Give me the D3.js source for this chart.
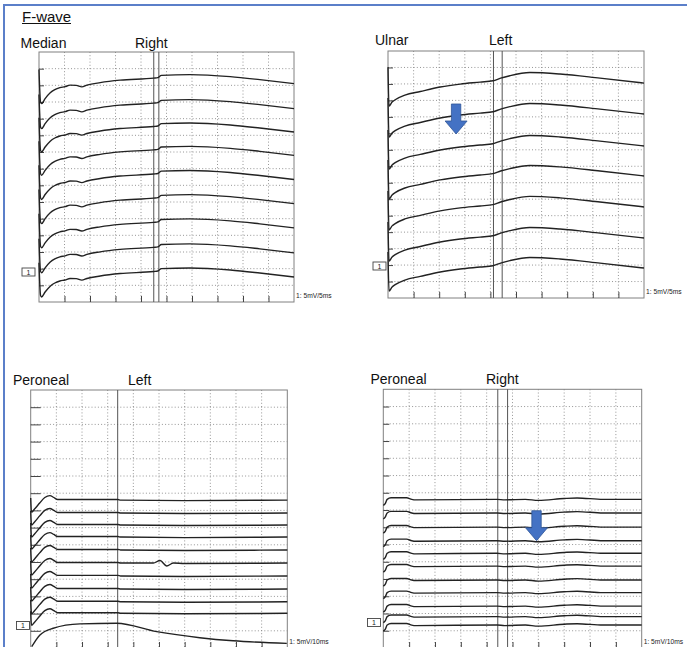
<!DOCTYPE html>
<html>
<head>
<meta charset="utf-8">
<script src="https://cdn.jsdelivr.net/npm/d3@7"></script>
<style>
  body { margin:0; background:#fff; }
  svg { display:block; font-family:"Liberation Sans", Arial, sans-serif; }
</style>
</head>
<body>
<svg id="chart" width="687" height="647"></svg>
<script>
// ---------------- data ----------------
// time in ms, amplitude in screen divisions (15 divs high), 0 = bottom of the box
// each trace = level (value at the right end) + common waveform offsets

var medianLevels = [13.1, 11.6, 10.2, 8.8, 7.35, 5.9, 4.45, 2.95, 1.5]
var medianShape = [[0,0.85],[0.3,-1.1],[0.5,-1.2],[1.2,-0.9],[2.2,-0.55],[3.1,-0.36],[4.1,-0.24],
  [5.1,-0.18],[6.1,-0.09],[7.3,-0.1],[8.4,-0.19],[9.4,-0.09],[12,0.06],[15.9,0.21],[22.5,0.33],
  [23.3,0.36],[24,0.5],[29.6,0.54],[37.5,0.42],[43.3,0.24],[50,0]]
var medianCursors = [22.5, 23.5]

var ulnarLevels = [13.05, 11.17, 9.23, 7.41, 5.53, 3.64, 1.82]
var ulnarShape = [[0,0.97],[0.2,-1.4],[0.8,-1.15],[1.4,-1.01],[3.3,-0.73],[6.3,-0.51],[10.2,-0.24],
  [14.1,-0.06],[18,0.06],[20.5,0.14],[22,0.3],[23.8,0.45],[27.7,0.64],[33.6,0.55],[41.4,0.3],[50,0]]
var ulnarCursors = [20.6, 22.3]
var ulnarArrow = [13.3, 9.96]

var peroLeftLevels = [8.6, 7.85, 7.15, 6.45, 5.7, 4.94, 4.19, 3.43, 2.69, 2.02]
var peroLeftShape = [[0,0.12],[0.3,-0.7],[1.5,-0.52],[3.5,-0.17],[5.5,0.15],[7.5,0.26],[9,0.15],
  [10.5,0.03],[20,0.03],[34,0.03],[35,0],[60,-0.03],[100,0]]
// the trace with the late response near 50 ms
var peroLeftBumpTrace = 5
var peroLeftBumpShape = [[0,0.12],[0.3,-0.7],[1.5,-0.52],[3.5,-0.17],[5.5,0.15],[7.5,0.26],[9,0.15],
  [10.5,0.03],[20,0.03],[34,0.03],[35,0],[47.8,0],[50.4,0.15],[53,-0.17],[55.6,0],[60,-0.03],[100,0]]
// bottom trace (M-wave), absolute values
var peroLeftLast = [[0.4,0.08],[3.6,0.76],[8.8,1.15],[19.2,1.4],[33.5,1.44],[49.1,0.95],
  [65.9,0.6],[78.9,0.42],[99.8,0.27]]
var peroLeftCursors = [33.9]

var peroRightLevels = [8.62, 7.83, 7.01, 6.22, 5.49, 4.75, 3.94, 3.21, 2.43, 1.82, 1.33]
var peroRightShape = [[0,-0.35],[0.8,-0.23],[1.5,0],[3,0.09],[9,0.09],[11,0],[12.5,-0.03],
  [44,0],[47,-0.03],[55,0],[60,-0.06],[70,0.05],[75,0.08],[85,0],[100,0]]
var peroRightCursors = [44.3, 48.1]
var peroRightArrow = [59.3, 6.22]

// ---------------- layout ----------------
var svg = d3.select('#chart')

svg.append('path')
  .attr('d','M4,647 L4,5 L687,5')
  .attr('fill','none')
  .attr('stroke','#5b7fc9')
  .attr('stroke-width',2)

svg.append('text').attr('x',22).attr('y',21.5)
  .attr('font-size',15).attr('fill','#111').text('F-wave')
svg.append('line').attr('x1',22).attr('x2',71).attr('y1',23.5).attr('y2',23.5)
  .attr('stroke','#111').attr('stroke-width',1)

var panels = [
  {x0:39, y0:52, x1:294, y1:302, tmax:50, nerve:'Median', side:'Right', nx:20.5, sx:135, ty:47.5,
   levels:medianLevels, shape:medianShape, cursors:medianCursors, tick:5,
   scale:'1: 5mV/5ms', box1:[22,268]},
  {x0:388, y0:51, x1:644, y1:298, tmax:50, nerve:'Ulnar', side:'Left', nx:375, sx:489, ty:45,
   levels:ulnarLevels, shape:ulnarShape, cursors:ulnarCursors, tick:5, arrow:ulnarArrow,
   scale:'1: 5mV/5ms', box1:[373,262]},
  {x0:30.7, y0:390, x1:287.3, y1:648, tmax:100, nerve:'Peroneal', side:'Left', nx:13, sx:128, ty:385,
   levels:peroLeftLevels, shape:peroLeftShape, cursors:peroLeftCursors, tick:10,
   special:{index:peroLeftBumpTrace, shape:peroLeftBumpShape}, last:peroLeftLast,
   scale:'1: 5mV/10ms', box1:[16.5,621.5]},
  {x0:383.3, y0:389.3, x1:641.7, y1:648, tmax:100, nerve:'Peroneal', side:'Right', nx:370.5, sx:486, ty:383.5,
   levels:peroRightLevels, shape:peroRightShape, cursors:peroRightCursors, tick:6, arrow:peroRightArrow,
   scale:'1: 5mV/10ms', box1:[367.5,618.5]}
]

panels.forEach(drawPanel)

function drawPanel(p){
  var g = svg.append('g')
  var x = d3.scaleLinear().domain([0,p.tmax]).range([p.x0,p.x1])
  var y = d3.scaleLinear().domain([0,15]).range([p.y1,p.y0])
  var w = p.x1-p.x0, h = p.y1-p.y0

  // titles
  g.append('text').attr('x',p.nx).attr('y',p.ty).attr('font-size',14).attr('fill','#111').text(p.nerve)
  g.append('text').attr('x',p.sx).attr('y',p.ty).attr('font-size',14).attr('fill','#111').text(p.side)

  // dotted grid
  var xg = x.ticks(10).filter(function(d){return d>0 && d<p.tmax})
  var yg = y.ticks(15).filter(function(d){return d>0 && d<15})
  g.selectAll('.vg').data(xg).enter().append('line')
    .attr('x1',function(d){return x(d)}).attr('x2',function(d){return x(d)})
    .attr('y1',p.y0).attr('y2',p.y1)
    .attr('stroke','#8a8a8a').attr('stroke-width',0.9).attr('stroke-dasharray','1,2.2')
  g.selectAll('.hg').data(yg).enter().append('line')
    .attr('y1',function(d){return y(d)}).attr('y2',function(d){return y(d)})
    .attr('x1',p.x0).attr('x2',p.x1)
    .attr('stroke','#8a8a8a').attr('stroke-width',0.9).attr('stroke-dasharray','1,2.2')

  // frame
  g.append('rect').attr('x',p.x0).attr('y',p.y0).attr('width',w).attr('height',h)
    .attr('fill','none').attr('stroke','#808080').attr('stroke-width',1)

  // inner ticks, left and bottom
  var la = d3.axisRight(y).tickValues(yg).tickSize(p.tick).tickFormat('')
  g.append('g').attr('transform','translate('+p.x0+',0)').call(la)
    .call(function(s){s.select('.domain').remove(); s.selectAll('line').attr('stroke','#444')})
  var ba = d3.axisTop(x).tickValues(xg).tickSize(6).tickFormat('')
  g.append('g').attr('transform','translate(0,'+p.y1+')').call(ba)
    .call(function(s){s.select('.domain').remove(); s.selectAll('line').attr('stroke','#444')})

  // cursors
  g.selectAll('.cur').data(p.cursors).enter().append('line')
    .attr('x1',function(d){return x(d)}).attr('x2',function(d){return x(d)})
    .attr('y1',p.y0).attr('y2',p.y1)
    .attr('stroke','#555').attr('stroke-width',1)

  // traces
  var line = d3.line().curve(d3.curveMonotoneX)
  p.levels.forEach(function(lv,i){
    var shp = (p.special && p.special.index==i) ? p.special.shape : p.shape
    g.append('path')
      .attr('d', line.x(function(d){return x(d[0])}).y(function(d){return y(lv+d[1])})(shp))
      .attr('fill','none').attr('stroke','#222').attr('stroke-width',1.4)
  })
  if(p.last){
    g.append('path')
      .attr('d', line.x(function(d){return x(d[0])}).y(function(d){return y(d[1])})(p.last))
      .attr('fill','none').attr('stroke','#222').attr('stroke-width',1.4)
  }

  // channel box "1"
  g.append('rect').attr('x',p.box1[0]).attr('y',p.box1[1]).attr('width',13).attr('height',8)
    .attr('fill','#fff').attr('stroke','#444').attr('stroke-width',0.9)
  g.append('text').attr('x',p.box1[0]+6.5).attr('y',p.box1[1]+6.6).attr('text-anchor','middle')
    .attr('font-size',7).attr('fill','#222').text('1')

  // scale
  g.append('text').attr('x',p.x1+2).attr('y',p.y1-4.5).attr('font-size',6.7).attr('fill','#222').text(p.scale)

  // arrow
  if(p.arrow){
    var tx = x(p.arrow[0]), ty = y(p.arrow[1])
    var pts = [[tx,ty],[tx-11,ty-13],[tx-4.7,ty-13],[tx-4.7,ty-30],[tx+4.7,ty-30],[tx+4.7,ty-13],[tx+11,ty-13]]
    g.append('path').attr('d','M'+pts.join('L')+'Z')
      .attr('fill','#4472c4').attr('stroke','#2f5597').attr('stroke-width',0.8)
  }
}
</script>
</body>
</html>
